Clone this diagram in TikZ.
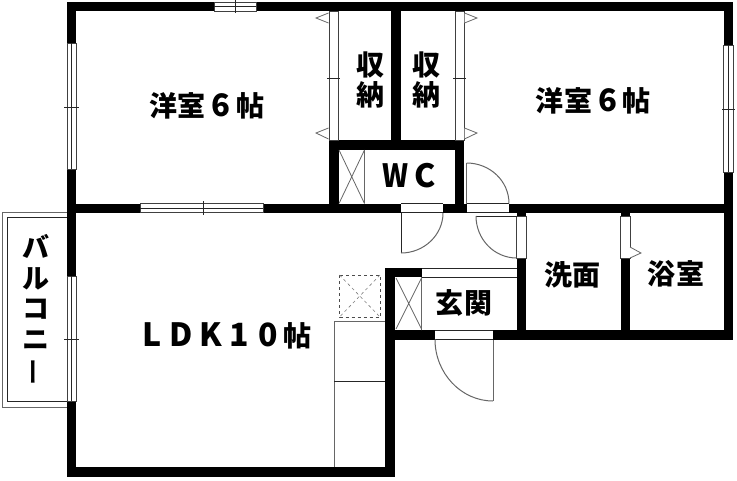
\documentclass[tikz,border=0pt]{standalone}
\usepackage{fontspec}
\newfontfamily\jp{Noto Sans CJK JP}
\newcommand\kc[1]{\makebox[29pt]{\jp\bfseries\fontsize{28}{30}\selectfont #1}}
\newcommand\lc[2][32]{\makebox[29pt]{\jp\bfseries\fontsize{#1}{30}\selectfont #2}}
\tikzset{
  x=1pt,y=-1pt,
  wall/.style={fill=black,draw=none},
  win/.style={fill=white,draw=black!75,line width=0.8pt},
  thin/.style={draw=black!85,line width=0.8pt},
  gr/.style={draw=black!60,line width=1pt},
  lab/.style={font=\jp\bfseries\fontsize{28}{30}\selectfont,align=center,inner sep=0pt,text=black},
}
\begin{document}
\begin{tikzpicture}
\useasboundingbox (0,0) rectangle (737,480);
\fill[white] (0,0) rectangle (737,480);
% balcony
\draw[gr,fill=white] (67,212) -- (2.5,212) -- (2.5,407) -- (67,407);
\draw[thin] (67,217) -- (7.5,217) -- (7.5,401) -- (67,401);
% counter and hood
\draw[gr] (334,467) -- (334,321) -- (385,321);
\draw[thin] (334,381.5) -- (385,381.5);
\draw[draw=black!70,line width=0.8pt,dashed] (339.5,275) rectangle (380,317);
\draw[draw=black!50,line width=0.6pt,dashed] (339.5,275) -- (380,317) (380,275) -- (339.5,317);
% walls
\fill[wall] (67,2) rectangle (733,11);
\fill[wall] (67,2) rectangle (76,477);
\fill[wall] (67,467) rectangle (395,477);
\fill[wall] (385,268) rectangle (395,477);
\fill[wall] (385,268) rectangle (422,277);
\fill[wall] (67,203.5) rectangle (733,212.7);
\fill[wall] (329,140) rectangle (339,212);
\fill[wall] (329,140) rectangle (464,150);
\fill[wall] (455,140) rectangle (464,212);
\fill[wall] (391,11) rectangle (401,150);
\fill[wall] (723.5,2) rectangle (733,339.5);
\fill[wall] (395,330) rectangle (733,339.5);
\fill[wall] (516.7,212) rectangle (526,339);
\fill[wall] (620.5,212) rectangle (630,339);
% windows
\draw[win] (214,2) rectangle (256,11); \draw[thin] (214,6.5) -- (256,6.5) (235,0) -- (235,13);
\draw[win] (67,43) rectangle (76,169); \draw[thin] (71.5,43) -- (71.5,169) (64,107) -- (79,107);
\draw[win] (67,276) rectangle (76,401); \draw[thin] (71.5,276) -- (71.5,401) (64,339) -- (79,339);
\draw[win] (723.5,45) rectangle (733,172); \draw[thin] (728,45) -- (728,172) (722,109) -- (735,109);
\draw[win] (140,203.5) rectangle (263,212.7); \draw[thin] (140,208) -- (263,208) (203,201) -- (203,215);
% sliding closets
\draw[win] (329,11) rectangle (338,140); \draw[thin] (327,78) -- (340,78);
\draw[win] (455,11) rectangle (464,140); \draw[thin] (453,78) -- (466,78);
\draw[gr,line width=0.8pt,fill=white] (328.5,13) -- (316,18) -- (328.5,23);
\draw[gr,line width=0.8pt,fill=white] (328.5,128) -- (316,133) -- (328.5,139);
\draw[gr,line width=0.8pt,fill=white] (464.5,13) -- (477,18) -- (464.5,23);
\draw[gr,line width=0.8pt,fill=white] (464.5,128) -- (477,133) -- (464.5,139);
% WC cupboard
\draw[gr,line width=0.8pt] (364.5,150) -- (364.5,203.5) (339,150) -- (364.5,203.5) (364.5,150) -- (339,203.5);
% door gaps
\fill[white] (401,203.5) rectangle (443,212.7);
\draw[thin] (401,203.5) -- (443,203.5) (401,212.7) -- (443,212.7);
\fill[white] (467,203.5) rectangle (509,212.7);
\draw[thin] (467,203.5) -- (509,203.5) (467,212.7) -- (509,212.7);
\draw[win] (516.7,216) rectangle (526,258);
\draw[win] (620.5,216) rectangle (630,258);
\fill[white] (435,330) rectangle (493,339.5);
\draw[thin] (435,330) -- (493,330) (435,339.5) -- (493,339.5);
% doors
\draw[thin] (401,212.7) -- (401,253);
\draw[gr] (443,213) .. controls (443,235) and (424,253) .. (401,253);
\draw[gr] (466.5,203.5) -- (466.5,163);
\draw[gr] (466.5,163) .. controls (490,163) and (509,181) .. (509,203.5);
\draw[thin] (516.7,216) -- (476,216);
\draw[gr] (476,216) .. controls (476,239) and (494,258) .. (516.7,258);
\draw[gr] (493,339.5) -- (493,401);
\draw[gr] (435,339.5) .. controls (435,373) and (461,401) .. (493,401);
% bath door mark
\draw[gr,line width=0.8pt,fill=white] (630,247) -- (641,253) -- (630,258);
% genkan
\draw[thin] (422,268) -- (516.7,268) (422,277) -- (516.7,277);
\draw[gr,line width=0.8pt] (421.5,277) -- (421.5,330) (396,278) -- (421.5,329) (421.5,278) -- (396,329);
% labels
\node[lab] (r1) at (206.5,105.5) {\kc{洋}\kc{室}\lc[31]{6}\kc{帖}};
\node[lab] (r2) at (593,100.5) {\kc{洋}\kc{室}\lc[31]{6}\kc{帖}};
\node[lab] (c1) at (370,80) {収\\納};
\node[lab] (c2) at (426.5,80) {収\\納};
\node[lab] (wc) at (410.5,175.5) {\lc{\scalebox{.87}[1]{W}}\lc{C}};
\node[lab] (g) at (464,302.5) {\kc{玄}\kc{関}};
\node[lab] (s) at (572.5,275) {\kc{洗}\kc{面}};
\node[lab] (b) at (676,273.5) {\kc{浴}\kc{室}};
\node[lab] (ldk) at (225,336) {\lc{L}\lc{D}\lc{K}\lc{1}\lc{0}\kc{帖}};
\node[lab,font=\jp\bfseries\fontsize{27}{30.5}\selectfont] (bal) at (36,310) {バ\\ル\\コ\\ニ\\\raisebox{3pt}{\rotatebox[origin=c]{90}{\scalebox{1}[0.7]{ー}}}};
\end{tikzpicture}
\end{document}
